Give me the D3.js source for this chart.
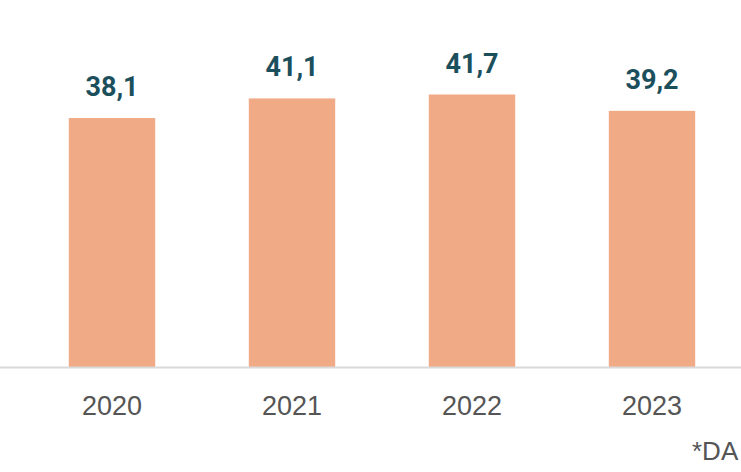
<!DOCTYPE html>
<html>
<head>
<meta charset="utf-8">
<script src="https://cdn.jsdelivr.net/npm/d3@7"></script>
<style>
  html, body { margin: 0; padding: 0; background: #fff; }
  svg { display: block; }
</style>
</head>
<body>
<svg id="chart" width="741" height="472"></svg>
<script>
const categories = ["2020", "2021", "2022", "2023"];
const values = [38.1, 41.1, 41.7, 39.2];
const valueLabels = ["38,1", "41,1", "41,7", "39,2"];
const footnote = "*DA";

const W = 741, H = 472;
const baseY = 367;
const svg = d3.select("#chart");

const x = d3.scaleBand().domain(categories).range([22, 742]).paddingInner(0.52).paddingOuter(0.26);
const y = d3.scaleLinear().domain([0, 41.7]).range([baseY, 94.5]);

svg.selectAll("rect.bar").data(values).enter().append("rect")
  .attr("class", "bar")
  .attr("x", (d, i) => x(categories[i]))
  .attr("width", x.bandwidth())
  .attr("y", d => y(d))
  .attr("height", d => baseY - y(d))
  .attr("fill", "#F0AA85");

svg.append("line")
  .attr("x1", 0).attr("x2", W)
  .attr("y1", baseY + 0.5).attr("y2", baseY + 0.5)
  .attr("stroke", "#d9d9d9").attr("stroke-width", 2);

svg.selectAll("text.val").data(values).enter().append("text")
  .attr("class", "val")
  .attr("x", (d, i) => x(categories[i]) + x.bandwidth() / 2)
  .attr("y", d => y(d) - 22)
  .attr("text-anchor", "middle")
  .attr("font-family", "Roboto, 'Liberation Sans', Arial, sans-serif")
  .attr("font-weight", "bold")
  .attr("font-size", 27)
  .attr("fill", "#1C4F5C")
  .text((d, i) => valueLabels[i]);

const xAxis = d3.axisBottom(x).tickSize(0).tickPadding(0);
const gx = svg.append("g").attr("transform", `translate(0, 415)`).call(xAxis);
gx.select(".domain").remove();
gx.selectAll("text")
  .attr("dy", 0)
  .attr("y", 0)
  .attr("font-family", "'Liberation Sans', Arial, sans-serif")
  .attr("font-size", 27)
  .attr("fill", "#555");

svg.append("text")
  .attr("x", 692).attr("y", 460)
  .attr("font-family", "'Liberation Sans', Arial, sans-serif")
  .attr("font-size", 26)
  .attr("fill", "#555")
  .text(footnote);
</script>
</body>
</html>
